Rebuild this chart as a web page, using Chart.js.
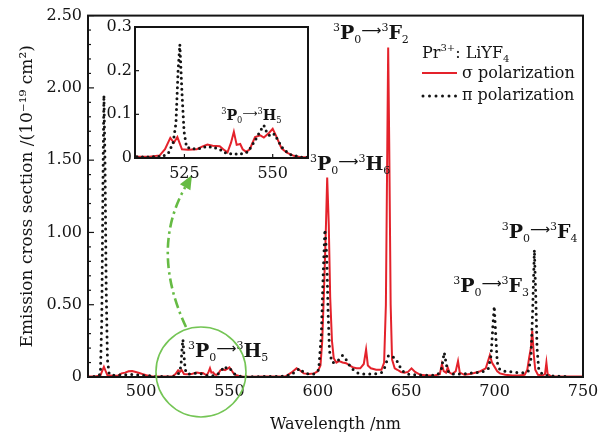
<!DOCTYPE html>
<html>
<head>
<meta charset="utf-8">
<title>Pr3+:LiYF4 emission cross section</title>
<script src="https://cdn.jsdelivr.net/npm/chart.js@4.4.1/dist/chart.umd.min.js"></script>
<style>
  html, body { margin: 0; padding: 0; background: #fff; }
  #wrap  { position: relative; width: 612px; height: 432px; }
  #main  { position: absolute; left: 0; top: 0; }
  #inset { position: absolute; left: 88px; top: 12px; }
</style>
</head>
<body>
<div id="wrap">
  <canvas id="main" width="612" height="432"></canvas>
  <canvas id="inset" width="224" height="176"></canvas>
</div>
<script>
// ================================================
//  Pr3+:LiYF4 emission cross section (σ / π)
//  main spectrum + zoomed inset of 3P0 -> 3H5
// ================================================

//  DATA (units 10^-19 cm^2)

const sigmaWl = [
  470, 474, 477, 478, 479, 480, 481, 484, 487, 489, 491, 493, 495, 497, 499, 501, 503, 506, 509,
  512, 515, 518, 519.5, 521, 522, 523, 524.3, 526, 528.5, 530, 531.5, 533, 535, 536, 537.2,
  538.2, 539, 539.8, 540.8, 541.5, 542.5, 543.5, 545, 546.5, 547.5, 549, 550, 551, 552.5, 554,
  556, 558, 562, 570, 578, 582, 585, 588, 590, 592, 595, 598, 600, 601.5, 602.5, 603.5, 604.5,
  605.3, 606.2, 607, 608, 609, 610.5, 612, 614, 616, 618, 620, 622, 624, 626, 627.3, 628.3, 630,
  633, 636, 637.5, 638.5, 639.3, 639.8, 640.4, 641.2, 642, 643.5, 645, 647, 649, 651, 653, 655,
  658, 662, 666, 669, 670.2, 671.2, 672.5, 673.5, 674.5, 676, 678, 679.3, 680.3, 683, 686, 689,
  692, 695, 697.3, 698.5, 700, 701.5, 703, 706, 710, 714, 717, 718.5, 719.5, 720.5, 721.3, 722.2,
  723, 724.5, 727, 728.5, 729.3, 730, 732, 740, 750,
];
const sigmaVal = [
  0.004, 0.004, 0.01, 0.04, 0.07, 0.04, 0.012, 0.008, 0.01, 0.025, 0.03, 0.04, 0.042, 0.035, 0.028, 0.02, 0.012, 0.006, 0.004,
  0.003, 0.003, 0.006, 0.02, 0.046, 0.035, 0.048, 0.02, 0.019, 0.02, 0.026, 0.031, 0.028, 0.027, 0.02, 0.013,
  0.035, 0.06, 0.03, 0.032, 0.02, 0.014, 0.02, 0.048, 0.052, 0.047, 0.058, 0.067, 0.05, 0.022, 0.012,
  0.005, 0.002, 0.002, 0.003, 0.004, 0.006, 0.03, 0.06, 0.045, 0.025, 0.02, 0.025, 0.04, 0.08, 0.25, 0.6, 1.0,
  1.38, 1.05, 0.55, 0.25, 0.13, 0.1, 0.11, 0.1, 0.095, 0.08, 0.065, 0.06, 0.06, 0.09, 0.19, 0.08, 0.06,
  0.05, 0.05, 0.1, 0.5, 1.6, 2.28, 1.6, 0.5, 0.12, 0.06, 0.05, 0.035, 0.03, 0.035, 0.06, 0.035,
  0.015, 0.01, 0.01, 0.02, 0.09, 0.04, 0.03, 0.065, 0.03, 0.02, 0.04, 0.11, 0.03, 0.015, 0.02, 0.03,
  0.04, 0.06, 0.15, 0.1, 0.07, 0.04, 0.025, 0.015, 0.01, 0.01, 0.015, 0.05, 0.13, 0.2, 0.32, 0.15,
  0.05, 0.015, 0.01, 0.02, 0.1, 0.02, 0.005, 0.004, 0.003,
];

const piWl = [
  470, 475, 477, 477.8, 478.5, 479, 479.6, 480.3, 481, 482, 485, 490, 495, 500, 505, 510, 515,
  519, 520.5, 521.8, 522.6, 523.2, 523.7, 524.3, 524.9, 525.6, 527, 529, 531, 533, 535, 537, 539,
  540.5, 543, 545, 546.5, 547.5, 548.5, 549.5, 550.5, 551.5, 553, 555, 558, 562, 570, 580, 585,
  588, 590, 592, 595, 598, 600.5, 602, 603, 604, 605, 605.8, 606.6, 608, 610, 612, 614, 616, 618,
  620, 622, 625, 628, 632, 636, 638, 640, 642, 644, 646, 648, 651, 655, 660, 665, 668, 670, 671.5,
  672.8, 674, 677, 681, 685, 690, 694, 696.5, 698, 699, 699.8, 700.6, 701.5, 703, 706, 710, 714,
  717, 719, 720.5, 721.5, 722.5, 723.3, 724, 725, 727, 730, 735, 740,
];
const piVal = [
  0.002, 0.004, 0.02, 0.4, 1.4, 1.95, 1.5, 0.6, 0.12, 0.02, 0.01, 0.015, 0.018, 0.012, 0.008, 0.003, 0.002,
  0.004, 0.012, 0.035, 0.08, 0.2, 0.26, 0.15, 0.06, 0.025, 0.021, 0.021, 0.026, 0.025, 0.02, 0.01, 0.01,
  0.008, 0.014, 0.04, 0.062, 0.075, 0.055, 0.05, 0.055, 0.04, 0.02, 0.008, 0.002, 0.002, 0.003, 0.005, 0.015,
  0.045, 0.06, 0.03, 0.02, 0.02, 0.05, 0.3, 0.7, 1.02, 0.85, 0.45, 0.18, 0.1, 0.1, 0.12, 0.15, 0.12, 0.08,
  0.05, 0.03, 0.02, 0.02, 0.02, 0.03, 0.07, 0.15, 0.14, 0.13, 0.08, 0.04, 0.02, 0.015, 0.012, 0.012, 0.02, 0.06, 0.17,
  0.08, 0.03, 0.02, 0.02, 0.025, 0.03, 0.04, 0.06, 0.15, 0.35, 0.49, 0.3, 0.1, 0.05, 0.04, 0.035, 0.03,
  0.03, 0.04, 0.12, 0.45, 0.88, 0.55, 0.2, 0.05, 0.02, 0.01, 0.005, 0.003,
];

const xTicks           = [500, 550, 600, 650, 700, 750];
const yTicks           = [0, 0.5, 1, 1.5, 2, 2.5];
const yTickLabels      = ['0', '0.50', '1.00', '1.50', '2.00', '2.50'];
const insetXTicks      = [525, 550];
const insetYTicks      = [0, 0.1, 0.2, 0.3];
const insetYTickLabels = ['0', '0.1', '0.2', '0.3'];

//  STYLE

const RED   = '#e4222b';
const INK   = '#141414';
const GREEN = '#74c555';
const SERIF = '"DejaVu Serif", "Liberation Serif", serif';

// transition labels, anchored in data coords (left edge / baseline)
const transitions = [
  { nm: 608.6, v: 2.34,  L: 'F', sub: '2' },
  { nm: 595.6, v: 1.43,  L: 'H', sub: '6' },
  { nm: 676.6, v: 0.587, L: 'F', sub: '3' },
  { nm: 704.0, v: 0.96,  L: 'F', sub: '4' },
  { nm: 526.6, v: 0.138, L: 'H', sub: '5' },
];

//  HELPERS

const toPoints = (xs, ys) => xs.map((x, i) => ({ x, y: ys[i] }));

function seriesSets(dotGap) {
  return [
    {
      label: 'σ polarization',
      data: toPoints(sigmaWl, sigmaVal),
      borderColor: RED,
      borderWidth: 2,
      pointRadius: 0,
      tension: 0,
      order: 1,
    },
    {
      label: 'π polarization',
      data: toPoints(piWl, piVal),
      borderColor: INK,
      borderWidth: 3,
      borderDash: [0, dotGap],
      borderCapStyle: 'round',
      pointRadius: 0,
      tension: 0,
      order: 0,
    },
  ];
}

// draws a run of [text, kind] pieces with super/subscripts
function richText(ctx, x, y, parts, s = 1) {
  const styles = {
    b:    { font: `bold ${19 * s}px ${SERIF}`, dy: 0 },
    n:    { font: `${16 * s}px ${SERIF}`, dy: 0 },
    sup:  { font: `${11 * s}px ${SERIF}`, dy: -8 * s },
    sub:  { font: `${11 * s}px ${SERIF}`, dy: 4 * s },
    nsup: { font: `${10 * s}px ${SERIF}`, dy: -7 * s },
    nsub: { font: `${10 * s}px ${SERIF}`, dy: 4 * s },
    arr:  { font: `${14 * s}px "DejaVu Sans", sans-serif`, dy: -4 * s },
  };
  ctx.save();
  ctx.fillStyle = INK;
  ctx.textBaseline = 'alphabetic';
  ctx.textAlign = 'left';
  for (const [txt, kind] of parts) {
    const st = styles[kind];
    ctx.font = st.font;
    ctx.fillText(txt, x, y + st.dy);
    x += ctx.measureText(txt).width;
  }
  ctx.restore();
}

function transitionParts(L, sub) {
  return [['3', 'sup'], ['P', 'b'], ['0', 'sub'], ['⟶', 'arr'],
          ['3', 'sup'], [L, 'b'], [sub, 'sub']];
}

function fixedTicks(values) {
  return scale => { scale.ticks = values.map(value => ({ value })); };
}

//  MAIN CHART DECORATION

const mainDecor = {
  id: 'mainDecor',
  afterDatasetsDraw(chart) {
    const { ctx, chartArea: a, scales: { x, y } } = chart;
    ctx.save();

    // frame
    ctx.strokeStyle = INK;
    ctx.lineWidth = 2;
    ctx.strokeRect(a.left, a.top, a.right - a.left, a.bottom - a.top);

    // inward ticks on the left axis (major 0.5, minor 0.1)
    ctx.lineWidth = 1.2;
    for (let i = 0; i <= 25; i++) {
      const py = y.getPixelForValue(i / 10);
      ctx.beginPath();
      ctx.moveTo(a.left, py);
      ctx.lineTo(a.left + (i % 5 === 0 ? 6 : 3), py);
      ctx.stroke();
    }

    // transition labels
    transitions.forEach(t => {
      richText(ctx, x.getPixelForValue(t.nm), y.getPixelForValue(t.v), transitionParts(t.L, t.sub));
    });

    // legend
    richText(ctx, 422, 58, [['Pr', 'n'], ['3+', 'nsup'], [': LiYF', 'n'], ['4', 'nsub']]);
    ctx.lineCap = 'butt';
    ctx.strokeStyle = RED;
    ctx.lineWidth = 2;
    ctx.beginPath(); ctx.moveTo(422, 73); ctx.lineTo(457, 73); ctx.stroke();
    ctx.strokeStyle = INK;
    ctx.lineWidth = 3;
    ctx.lineCap = 'round';
    ctx.setLineDash([0, 6.5]);
    ctx.beginPath(); ctx.moveTo(423, 96); ctx.lineTo(456, 96); ctx.stroke();
    ctx.setLineDash([]);
    richText(ctx, 462, 78, [['σ polarization', 'n']]);
    richText(ctx, 462, 100, [['π polarization', 'n']]);

    // green circle round the 3H5 band
    const cx = x.getPixelForValue(533.9);
    const cy = y.getPixelForValue(0.035);
    ctx.strokeStyle = GREEN;
    ctx.lineWidth = 1.6;
    ctx.beginPath(); ctx.arc(cx, cy, 45, 0, Math.PI * 2); ctx.stroke();

    // dash-dot callout arrow up to the inset
    const p0 = { x: 186, y: 327 };
    const c  = { x: 150, y: 250 };
    const tip = { x: 192, y: 175 };
    const dx = tip.x - c.x, dy = tip.y - c.y;
    const len = Math.hypot(dx, dy);
    const ux = dx / len, uy = dy / len;
    const base = { x: tip.x - ux * 14, y: tip.y - uy * 14 };
    ctx.strokeStyle = '#66bb44';
    ctx.lineWidth = 2.6;
    ctx.lineCap = 'butt';
    ctx.setLineDash([10, 4, 2.5, 4]);
    ctx.beginPath();
    ctx.moveTo(p0.x, p0.y);
    ctx.quadraticCurveTo(c.x, c.y, base.x, base.y);
    ctx.stroke();
    ctx.setLineDash([]);
    ctx.fillStyle = '#66bb44';
    ctx.beginPath();
    ctx.moveTo(tip.x, tip.y);
    ctx.lineTo(base.x - uy * 6, base.y + ux * 6);
    ctx.lineTo(base.x + uy * 6, base.y - ux * 6);
    ctx.closePath();
    ctx.fill();

    ctx.restore();
  },
};

//  INSET DECORATION

const insetDecor = {
  id: 'insetDecor',
  beforeDraw(chart) {
    const { ctx, chartArea: a } = chart;
    if (!a) return;
    ctx.save();
    ctx.fillStyle = '#fff';
    ctx.fillRect(a.left, a.top, a.right - a.left, a.bottom - a.top);
    ctx.restore();
  },
  afterDatasetsDraw(chart) {
    const { ctx, chartArea: a, scales: { x, y } } = chart;
    ctx.save();
    ctx.strokeStyle = INK;
    ctx.lineWidth = 2;
    ctx.strokeRect(a.left, a.top, a.right - a.left, a.bottom - a.top);
    ctx.lineWidth = 1.2;
    insetYTicks.forEach(v => {
      const py = y.getPixelForValue(v);
      ctx.beginPath(); ctx.moveTo(a.left, py); ctx.lineTo(a.left + 4, py); ctx.stroke();
    });
    insetXTicks.forEach(v => {
      const px = x.getPixelForValue(v);
      ctx.beginPath(); ctx.moveTo(px, a.bottom); ctx.lineTo(px, a.bottom - 4); ctx.stroke();
    });
    richText(ctx, x.getPixelForValue(535.4), y.getPixelForValue(0.087), transitionParts('H', '5'), 0.75);
    ctx.restore();
  },
};

//  CHARTS

const tickFont = { family: SERIF, size: 16 };

new Chart(document.getElementById('main'), {
  type: 'line',
  data: { datasets: seriesSets(6) },
  options: {
    responsive: false,
    animation: false,
    events: [],
    layout: { padding: { left: 17, top: 15, right: 29, bottom: 0 } },
    plugins: { legend: { display: false }, tooltip: { enabled: false } },
    scales: {
      x: {
        type: 'linear',
        min: 470,
        max: 750,
        afterBuildTicks: fixedTicks(xTicks),
        afterFit: s => { s.height = 55; },
        grid: { display: false, drawTicks: false },
        border: { display: false },
        ticks: { font: tickFont, color: INK, padding: 5, maxRotation: 0 },
        title: {
          display: true,
          text: 'Wavelength /nm',
          font: { family: SERIF, size: 16 },
          color: INK,
          padding: { top: 0, bottom: -2 },
        },
      },
      y: {
        type: 'linear',
        min: 0,
        max: 2.5,
        afterBuildTicks: fixedTicks(yTicks),
        afterFit: s => { s.width = 71; },
        grid: { display: false, drawTicks: false },
        border: { display: false },
        ticks: {
          font: tickFont,
          color: INK,
          padding: 6,
          callback: (v, i) => yTickLabels[i],
        },
        title: {
          display: true,
          text: 'Emission cross section /(10⁻¹⁹ cm²)',
          font: { family: SERIF, size: 17 },
          color: INK,
          padding: { top: 0, bottom: 0 },
        },
      },
    },
  },
  plugins: [mainDecor],
});

new Chart(document.getElementById('inset'), {
  type: 'line',
  data: { datasets: seriesSets(5.5) },
  options: {
    responsive: false,
    animation: false,
    events: [],
    layout: { padding: { left: 0, top: 15, right: 4, bottom: 0 } },
    plugins: { legend: { display: false }, tooltip: { enabled: false } },
    scales: {
      x: {
        type: 'linear',
        min: 511,
        max: 560,
        afterBuildTicks: fixedTicks(insetXTicks),
        afterFit: s => { s.height = 30; },
        grid: { display: false, drawTicks: false },
        border: { display: false },
        ticks: { font: tickFont, color: INK, padding: 6, maxRotation: 0 },
      },
      y: {
        type: 'linear',
        min: 0,
        max: 0.3,
        afterBuildTicks: fixedTicks(insetYTicks),
        afterFit: s => { s.width = 47; },
        grid: { display: false, drawTicks: false },
        border: { display: false },
        ticks: {
          font: tickFont,
          color: INK,
          padding: 3,
          callback: (v, i) => insetYTickLabels[i],
        },
      },
    },
  },
  plugins: [insetDecor],
});
</script>
</body>
</html>
